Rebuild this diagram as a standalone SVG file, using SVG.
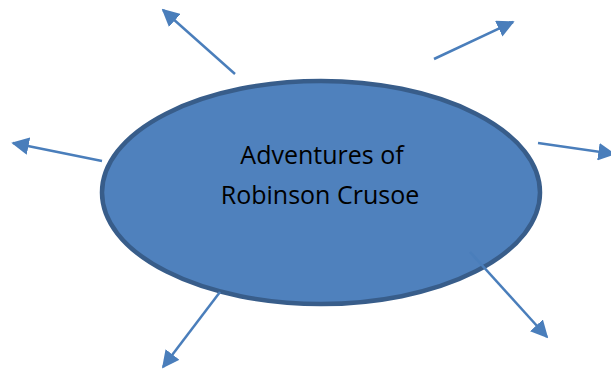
<svg xmlns="http://www.w3.org/2000/svg" width="611" height="370" viewBox="0 0 611 370">
<style>
.node{fill:#4F81BD;stroke:#385D8A;stroke-width:4.5}
.lbl{font-family:"Open Sans","Liberation Sans",sans-serif;font-size:25px;fill:#000;text-anchor:middle}
.conn{stroke:#4A7EBB;stroke-width:2.5;fill:none;marker-end:url(#ah)}
</style>
<defs>
<marker id="ah" viewBox="0 0 10 10" refX="9" refY="5" markerWidth="7" markerHeight="7" orient="auto" markerUnits="strokeWidth">
<path d="M0,0 L10,5 L0,10 Z" fill="#4A7EBB"/>
</marker>
</defs>
<g id="center">
<ellipse class="node" cx="321" cy="192.5" rx="219" ry="111.5"/>
<text class="lbl" x="322" y="164">Adventures of</text>
<text class="lbl" x="320" y="204">Robinson Crusoe</text>
</g>
<g id="connectors">
<line class="conn" x1="235" y1="74" x2="163" y2="10"/>
<line class="conn" x1="434" y1="59" x2="513" y2="22"/>
<line class="conn" x1="102" y1="161" x2="13" y2="143"/>
<line class="conn" x1="538" y1="143" x2="614" y2="154"/>
<line class="conn" x1="220" y1="292" x2="163" y2="367"/>
<line class="conn" x1="470" y1="252" x2="547" y2="337"/>
</g>
</svg>
